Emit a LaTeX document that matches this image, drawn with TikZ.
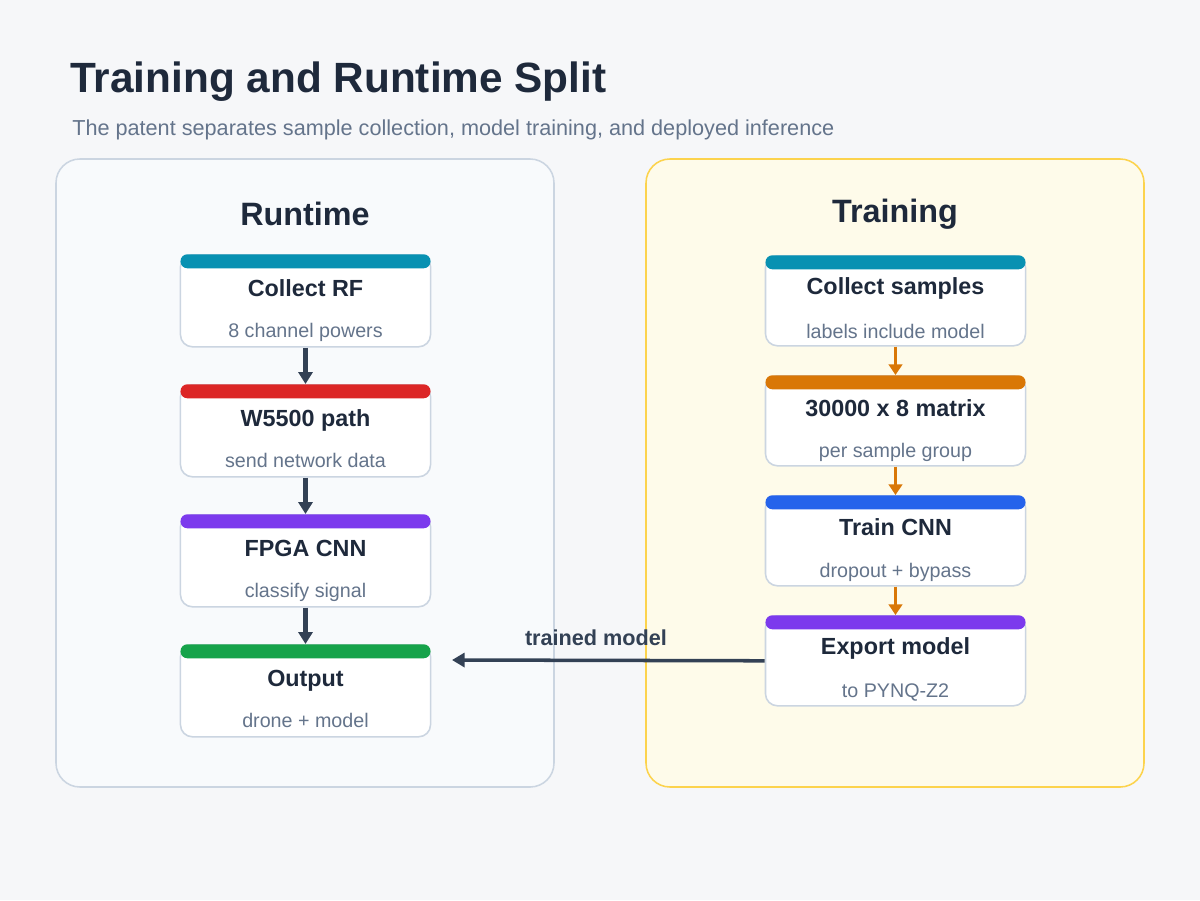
\documentclass[tikz,border=0pt]{standalone}
\usepackage{fontspec}
\setmainfont{Liberation Sans}
\usetikzlibrary{arrows.meta}

\definecolor{bgcol}{HTML}{F6F7F9}
\definecolor{inkdark}{HTML}{1E293B}
\definecolor{inkgray}{HTML}{64748B}
\definecolor{arrowdark}{HTML}{334155}
\definecolor{cardline}{HTML}{CBD5E1}
\definecolor{rtfill}{HTML}{F8FAFC}
\definecolor{trfill}{HTML}{FEFBEA}
\definecolor{trline}{HTML}{FCD34D}
\definecolor{teal}{HTML}{0891B2}
\definecolor{redbar}{HTML}{DC2626}
\definecolor{purplebar}{HTML}{7C3AED}
\definecolor{greenbar}{HTML}{16A34A}
\definecolor{orangebar}{HTML}{D97706}
\definecolor{bluebar}{HTML}{2563EB}

\begin{document}
\begin{tikzpicture}[x=0.025cm,y=-0.025cm,
  panel/.style={line width=1.1pt, rounded corners=17pt},
  rtcard/.style={draw=cardline, line width=1.1pt, fill=white, rounded corners=8.5pt,
    anchor=north, minimum width=6.25cm, minimum height=2.3cm, inner sep=0pt},
  trcard/.style={rtcard, minimum width=6.5cm, minimum height=2.25cm},
  rtbar/.style={anchor=north, minimum width=6.25cm, minimum height=0.35cm,
    inner sep=0pt, rounded corners=4.9pt},
  trbar/.style={rtbar, minimum width=6.5cm},
  cardtitle/.style={anchor=base, text=inkdark, font=\fontsize{16.6}{19}\selectfont\bfseries},
  cardsub/.style={anchor=base, text=inkgray, font=\fontsize{14}{17}\selectfont},
  heading/.style={anchor=base, text=inkdark, font=\fontsize{23}{27}\selectfont\bfseries},
  rtarrow/.style={draw=arrowdark, line width=3pt, -{Triangle[length=8.5pt,width=10pt]}},
  trarrow/.style={draw=orangebar, line width=2.6pt, -{Triangle[length=7.5pt,width=9.5pt]}}
]

% Background
\fill[bgcol] (0,0) rectangle (1200,900);

% Title
\node[anchor=base west, text=inkdark, inner sep=0pt, font=\fontsize{30.1}{36}\selectfont\bfseries]
  (title) at (70,93) {Training and Runtime Split};
\node[anchor=base west, text=inkgray, inner sep=0pt, font=\fontsize{15.4}{18}\selectfont]
  (subtitle) at (72,135) {The patent separates sample collection, model training, and deployed inference};

% Panels
\draw[panel, draw=cardline, fill=rtfill] (56,159) rectangle (554,787);
\draw[panel, draw=trline, fill=trfill] (646,159) rectangle (1144,787);
\node[heading] (rthead) at (305,225) {Runtime};
\node[heading] (trhead) at (895,222) {Training};

% Runtime cards
\node[rtcard] (rt1) at (305.5,254) {};
\node[rtbar, fill=teal] (rt1bar) at (305.5,254) {};
\node[cardtitle] (rt1t) at (305.5,296) {Collect RF};
\node[cardsub] (rt1s) at (305.5,337) {8 channel powers};

\node[rtcard] (rt2) at (305.5,384) {};
\node[rtbar, fill=redbar] (rt2bar) at (305.5,384) {};
\node[cardtitle] (rt2t) at (305.5,426) {W5500 path};
\node[cardsub] (rt2s) at (305.5,467) {send network data};

\node[rtcard] (rt3) at (305.5,514) {};
\node[rtbar, fill=purplebar] (rt3bar) at (305.5,514) {};
\node[cardtitle] (rt3t) at (305.5,556) {FPGA CNN};
\node[cardsub] (rt3s) at (305.5,597) {classify signal};

\node[rtcard] (rt4) at (305.5,644) {};
\node[rtbar, fill=greenbar] (rt4bar) at (305.5,644) {};
\node[cardtitle] (rt4t) at (305.5,686) {Output};
\node[cardsub] (rt4s) at (305.5,727) {drone + model};

% Training cards
\node[trcard] (tr1) at (895.5,255) {};
\node[trbar, fill=teal] (tr1bar) at (895.5,255) {};
\node[cardtitle] (tr1t) at (895.5,294) {Collect samples};
\node[cardsub] (tr1s) at (895.5,338) {labels include model};

\node[trcard] (tr2) at (895.5,375) {};
\node[trbar, fill=orangebar] (tr2bar) at (895.5,375) {};
\node[cardtitle] (tr2t) at (895.5,416) {30000 x 8 matrix};
\node[cardsub] (tr2s) at (895.5,457) {per sample group};

\node[trcard] (tr3) at (895.5,495) {};
\node[trbar, fill=bluebar] (tr3bar) at (895.5,495) {};
\node[cardtitle] (tr3t) at (895.5,535) {Train CNN};
\node[cardsub] (tr3s) at (895.5,577) {dropout + bypass};

\node[trcard] (tr4) at (895.5,615) {};
\node[trbar, fill=purplebar] (tr4bar) at (895.5,615) {};
\node[cardtitle] (tr4t) at (895.5,654) {Export model};
\node[cardsub] (tr4s) at (895.5,697) {to PYNQ-Z2};

% Runtime arrows
\draw[rtarrow] (rt1.south) -- (rt2bar.north);
\draw[rtarrow] (rt2.south) -- (rt3bar.north);
\draw[rtarrow] (rt3.south) -- (rt4bar.north);

% Training arrows
\draw[trarrow] (tr1.south) -- (tr2bar.north);
\draw[trarrow] (tr2.south) -- (tr3bar.north);
\draw[trarrow] (tr3.south) -- (tr4bar.north);

% Handoff
\coordinate (handoff) at (452,660);
\draw[draw=arrowdark, line width=2.5pt, -{Triangle[length=9pt,width=10pt]}] (tr4.west) -- (handoff);
\node[anchor=base, text=arrowdark, font=\fontsize{15.4}{18}\selectfont\bfseries] (handofftext) at (596,645) {trained model};

\end{tikzpicture}
\end{document}
